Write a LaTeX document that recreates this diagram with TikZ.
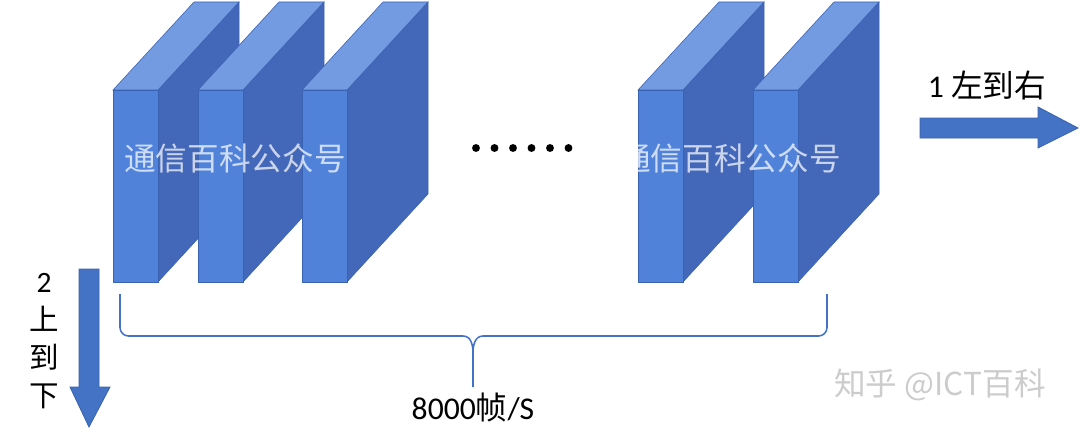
\documentclass[tikz,border=0pt]{standalone}
\usepackage{fontspec}
\setmainfont{Carlito}
\newfontfamily\cjk{Noto Sans CJK SC}

\definecolor{slabfront}{HTML}{5082DA}
\definecolor{slabtop}{HTML}{729BE2}
\definecolor{slabside}{HTML}{4468B9}
\definecolor{slabedge}{HTML}{3A62B2}
\definecolor{arrowblue}{HTML}{4472C4}
\definecolor{arrowedge}{HTML}{3B63AE}

% one slab, #1 = left edge of its front face
\newcommand{\drawslab}[1]{%
  \filldraw[fill=slabside,draw=slabedge] (#1+45,282) -- (#1+126,194) -- (#1+126,2) -- (#1+45,90) -- cycle;
  \filldraw[fill=slabtop,draw=slabedge] (#1,90) -- (#1+45,90) -- (#1+126,2) -- (#1+81,2) -- cycle;
  \filldraw[fill=slabfront,draw=slabedge] (#1,90) rectangle (#1+45,282);
}

\tikzset{
  lbl/.style={font=\fontsize{22.5}{27}\selectfont, inner sep=0pt},
  wmark/.style={font=\cjk\fontsize{22.5}{27}\selectfont, text=white, text opacity=0.72, inner sep=0pt},
  blockarrow/.style={fill=arrowblue, draw=arrowedge, line width=0.6pt},
  bracket/.style={draw=arrowblue, line width=1.1pt},
}

\begin{document}
\begin{tikzpicture}[x=0.025cm,y=-0.025cm]
  \useasboundingbox (0,0) rectangle (1080,434);

  \foreach \sx in {113,198,302,638,753}
    {\drawslab{\sx}}

  \node[wmark] (wm1) at (235,158) {通信百科公众号};
  \node[wmark] (wm2) at (730,158) {通信百科公众号};

  \foreach \i in {0,...,5}
    \fill (476+18.5*\i,148) circle (2.8pt);

  % arrow 1
  \draw[blockarrow] (920,118) -- (1038,118) -- (1038,107) -- (1078,128) -- (1038,148) -- (1038,138) -- (920,138) -- cycle;
  \node[lbl] (lr) at (987,85) {1 {\cjk 左到右}};

  % arrow 2
  \draw[blockarrow] (79,269) -- (99,269) -- (99,387) -- (110,387) -- (89,427) -- (70,387) -- (79,387) -- cycle;
  \node[lbl,align=center,font=\fontsize{21}{27}\selectfont] (ud) at (44,341) {2\\{\cjk 上}\\{\cjk 到}\\{\cjk 下}};

  % bracket under the slabs
  \draw[bracket,rounded corners=6pt] (120,294) -- (120,336) -- (463,336);
  \draw[bracket] (463,336) .. controls (471,336) and (473,345) .. (473,353) -- (473,387);
  \draw[bracket] (473,353) .. controls (473,345) and (475,336) .. (483,336);
  \draw[bracket,rounded corners=6pt] (483,336) -- (827,336) -- (827,294);
  \node[lbl] (rate) at (473,408) {8000{\cjk 帧}/S};

  \node[font=\cjk\fontsize{22.5}{27}\selectfont, text=gray!40, inner sep=0pt] (zh) at (940,385) {知乎 @ICT百科};
\end{tikzpicture}
\end{document}
